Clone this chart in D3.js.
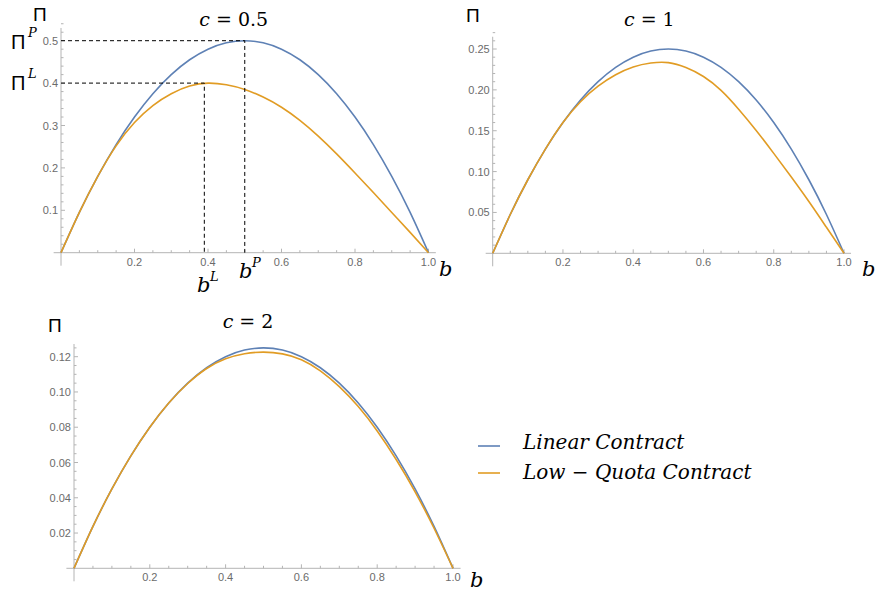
<!DOCTYPE html>
<html>
<head>
<meta charset="utf-8">
<script src="https://cdn.jsdelivr.net/npm/d3@7"></script>
<style>
  html, body { margin: 0; padding: 0; background: #fff; }
  svg { display: block; }
</style>
</head>
<body>
<svg id="chart" width="876" height="593"></svg>
<script>
// Share of the bonus b on the horizontal axis
const bValues = [0, 0.05, 0.1, 0.15, 0.2, 0.25, 0.3, 0.35, 0.4, 0.45, 0.5,
                 0.55, 0.6, 0.65, 0.7, 0.75, 0.8, 0.85, 0.9, 0.95, 1];

// Profit Π for c = 0.5
const linearC05 = [0, 0.095, 0.18, 0.255, 0.32, 0.375, 0.42, 0.455, 0.48, 0.495, 0.5,
                   0.495, 0.48, 0.455, 0.42, 0.375, 0.32, 0.255, 0.18, 0.095, 0];
const quotaC05  = [0, 0.095, 0.18, 0.252, 0.307, 0.347, 0.375, 0.393, 0.40, 0.396, 0.385,
                   0.367, 0.343, 0.312, 0.275, 0.233, 0.188, 0.142, 0.095, 0.048, 0];

// Profit Π for c = 1
const linearC1 = [0, 0.0475, 0.09, 0.1275, 0.16, 0.1875, 0.21, 0.2275, 0.24, 0.2475, 0.25,
                  0.2475, 0.24, 0.2275, 0.21, 0.1875, 0.16, 0.1275, 0.09, 0.0475, 0];
const quotaC1  = [0, 0.0475, 0.09, 0.1275, 0.16, 0.1855, 0.2045, 0.2185, 0.228, 0.2328, 0.2333,
                  0.2273, 0.2163, 0.1993, 0.1763, 0.1503, 0.1223, 0.0933, 0.0633, 0.0318, 0];

// Profit Π for c = 2
const linearC2 = [0, 0.02375, 0.045, 0.06375, 0.08, 0.09375, 0.105, 0.11375, 0.12, 0.12375, 0.125,
                  0.12375, 0.12, 0.11375, 0.105, 0.09375, 0.08, 0.06375, 0.045, 0.02375, 0];
const quotaC2  = [0, 0.02375, 0.045, 0.06375, 0.08, 0.09375, 0.1048, 0.1133, 0.1188, 0.1217, 0.1226,
                  0.1216, 0.1183, 0.112, 0.103, 0.0917, 0.0779, 0.0617, 0.0434, 0.0227, 0];

// Tick values
const xTickLabels = [0.2, 0.4, 0.6, 0.8, 1.0];
const yTicksC05 = [0.1, 0.2, 0.3, 0.4, 0.5];
const yTicksC1  = [0.05, 0.10, 0.15, 0.20, 0.25];
const yTicksC2  = [0.02, 0.04, 0.06, 0.08, 0.10, 0.12];

// Optimum markers in the c = 0.5 panel
const bP = 0.5, piP = 0.5;
const bL = 0.39, piL = 0.40;

const seriesNames = ["Linear Contract", "Low \u2212 Quota Contract"];
const colors = ["#5E81B5", "#E19C24"];

const svg = d3.select("#chart");
const serif = "'DejaVu Serif', 'Liberation Serif', serif";
const sans = "'Liberation Sans', Arial, sans-serif";

function panel(opts) {
  const x = d3.scaleLinear().domain([0, 1]).range([opts.left, opts.right]);
  const y = d3.scaleLinear().domain([0, opts.yRef]).range([opts.bottom, opts.top]);
  const g = svg.append("g");
  const axisColor = "#b4b4b4";

  // axis lines (with a little padding past the data range)
  g.append("line")
    .attr("x1", x(-0.02)).attr("x2", x(1.02))
    .attr("y1", y(0)).attr("y2", y(0))
    .attr("stroke", axisColor).attr("stroke-width", 1);
  g.append("line")
    .attr("x1", x(0)).attr("x2", x(0))
    .attr("y1", opts.bottom + 13).attr("y2", y(opts.yRef * 1.06))
    .attr("stroke", axisColor).attr("stroke-width", 1);

  // x ticks: minor every 0.05, major every 0.2
  const xMinor = d3.range(1, 21).map(i => i * 0.05);
  g.selectAll(".xt").data(xMinor).join("line")
    .attr("x1", d => x(d)).attr("x2", d => x(d))
    .attr("y1", y(0))
    .attr("y2", d => y(0) - (Math.abs(d * 5 - Math.round(d * 5)) < 1e-6 ? 4 : 2.5))
    .attr("stroke", axisColor);
  g.selectAll(".xl").data(xTickLabels).join("text")
    .attr("x", d => x(d)).attr("y", y(0) + 13)
    .attr("text-anchor", "middle")
    .attr("font-family", sans).attr("font-size", 11).attr("fill", "#6b6b6b")
    .text(d3.format(".1f"));

  // y ticks
  const nMinor = Math.round(opts.yRef * 1.06 / opts.yMinor);
  const yMinor = d3.range(1, nMinor + 1).map(i => i * opts.yMinor);
  const majorStep = opts.yTicks[1] - opts.yTicks[0];
  g.selectAll(".yt").data(yMinor).join("line")
    .attr("y1", d => y(d)).attr("y2", d => y(d))
    .attr("x1", x(0))
    .attr("x2", d => x(0) + (Math.abs(d / majorStep - Math.round(d / majorStep)) < 1e-6 ? 4 : 2.5))
    .attr("stroke", axisColor);
  g.selectAll(".yl").data(opts.yTicks).join("text")
    .attr("x", x(0) - 3).attr("y", d => y(d) + 4)
    .attr("text-anchor", "end")
    .attr("font-family", sans).attr("font-size", 11).attr("fill", "#6b6b6b")
    .text(d3.format(opts.yFormat));

  // curves
  const line = d3.line()
    .x((d, i) => x(bValues[i]))
    .y(d => y(d))
    .curve(d3.curveNatural);
  [opts.linear, opts.quota].forEach((s, k) => {
    g.append("path").datum(s)
      .attr("d", line)
      .attr("fill", "none")
      .attr("stroke", colors[k])
      .attr("stroke-width", 1.6);
  });

  // title
  const t = g.append("text")
    .attr("x", (opts.left + opts.right) / 2 + opts.titleDx)
    .attr("y", opts.titleY)
    .attr("text-anchor", "middle")
    .attr("font-family", serif).attr("font-size", 19).attr("fill", "#000");
  t.append("tspan").attr("font-style", "italic").text("c");
  t.append("tspan").text(" = " + opts.cLabel);

  // axis names
  g.append("text")
    .attr("x", opts.piX).attr("y", opts.piY)
    .attr("font-family", sans).attr("font-size", 19).attr("fill", "#000")
    .text("\u03A0");
  g.append("text")
    .attr("x", opts.bX).attr("y", opts.bY)
    .attr("font-family", serif).attr("font-style", "italic")
    .attr("font-size", 21).attr("fill", "#000")
    .text("b");

  return { g, x, y };
}

const p1 = panel({
  left: 61, right: 428.5, top: 40.7, bottom: 252.7, yRef: 0.5,
  yTicks: yTicksC05, yMinor: 0.02, yFormat: ".1f",
  linear: linearC05, quota: quotaC05, cLabel: "0.5",
  titleDx: -11, titleY: 26, piX: 33, piY: 21, bX: 439, bY: 276
});
const p2 = panel({
  left: 492.7, right: 844, top: 49, bottom: 253.3, yRef: 0.25,
  yTicks: yTicksC1, yMinor: 0.01, yFormat: ".2f",
  linear: linearC1, quota: quotaC1, cLabel: "1",
  titleDx: -19, titleY: 26, piX: 466, piY: 22, bX: 862, bY: 276
});
const p3 = panel({
  left: 74, right: 453, top: 356.7, bottom: 568.3, yRef: 0.12,
  yTicks: yTicksC2, yMinor: 0.005, yFormat: ".2f",
  linear: linearC2, quota: quotaC2, cLabel: "2",
  titleDx: -15.5, titleY: 328, piX: 48, piY: 332, bX: 470, bY: 587
});

// dashed guides to the optimum of each contract (c = 0.5)
[[bP, piP], [bL, piL]].forEach(([b, v]) => {
  const { g, x, y } = p1;
  g.append("path")
    .attr("d", `M${x(0)},${y(v)}H${x(b)}V${y(0)}`)
    .attr("fill", "none").attr("stroke", "#000")
    .attr("stroke-width", 1).attr("stroke-dasharray", "4,3");
});

// optimum labels
function supLabel(base, sup, bx, by, sx, sy, baseFont, baseSize) {
  svg.append("text").attr("x", bx).attr("y", by)
    .attr("font-family", baseFont).attr("font-size", baseSize)
    .attr("font-style", baseFont === serif ? "italic" : "normal")
    .text(base);
  svg.append("text").attr("x", sx).attr("y", sy)
    .attr("font-family", serif).attr("font-style", "italic").attr("font-size", 13)
    .text(sup);
}
supLabel("\u03A0", "P", 11, 49, 28, 37, sans, 20);
supLabel("\u03A0", "L", 11, 90, 28, 78, sans, 20);
supLabel("b", "L", 197, 292, 210, 281, serif, 21);
supLabel("b", "P", 239, 278, 252, 267, serif, 21);

// legend
const legend = svg.append("g");
seriesNames.forEach((name, i) => {
  const ly = [446, 473][i];
  legend.append("line")
    .attr("x1", 478).attr("x2", 500).attr("y1", ly).attr("y2", ly)
    .attr("stroke", colors[i]).attr("stroke-width", 1.6);
  legend.append("text")
    .attr("x", 523).attr("y", [449, 479][i])
    .attr("font-family", serif).attr("font-style", "italic")
    .attr("font-size", 20).attr("fill", "#000")
    .text(name);
});
</script>
</body>
</html>
